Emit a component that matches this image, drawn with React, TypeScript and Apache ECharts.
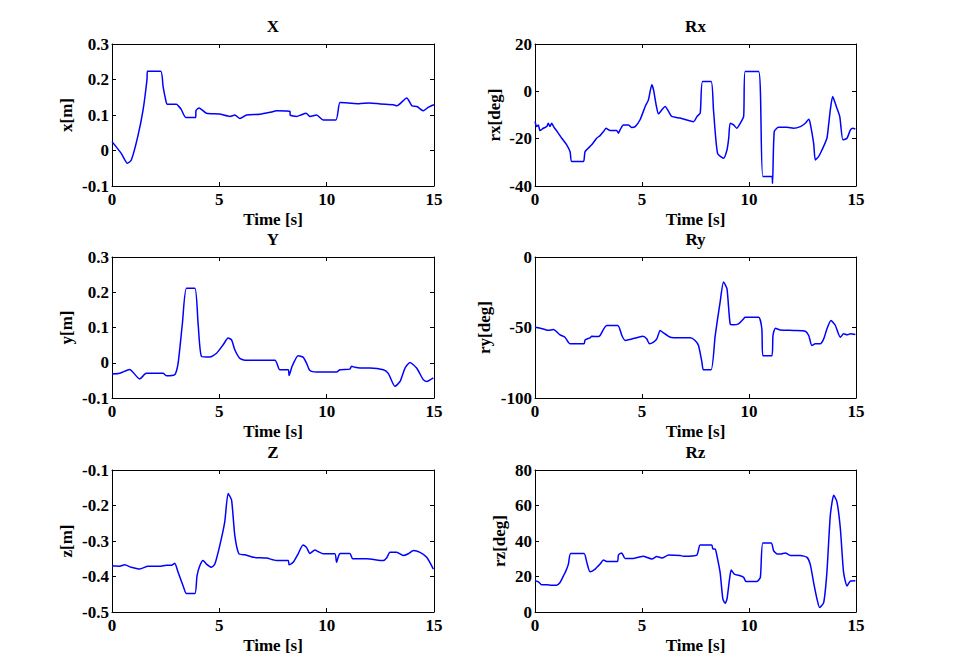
import React, { useEffect, useRef } from "react";
import * as echarts from "echarts";

// ---- data (time [s], value) ----
const X_T = [0, 0.43, 0.72, 0.9, 1.2, 1.45, 1.63, 1.65, 2.27, 2.38, 2.5, 2.57, 3.0, 3.1, 3.23, 3.44, 3.9, 3.91, 4.06, 4.4, 5.0, 5.5, 5.72, 5.96, 6.27, 6.9, 7.4, 7.67, 8.29, 8.3, 8.6, 8.8, 9.04, 9.22, 9.53, 9.84, 10.43, 10.62, 11.0, 11.5, 12.0, 12.5, 13.1, 13.27, 13.73, 13.97, 14.2, 14.51, 14.74, 15];
const X_V = [0.025, -0.008, -0.036, -0.027, 0.039, 0.115, 0.2, 0.223, 0.223, 0.18, 0.143, 0.13, 0.13, 0.125, 0.115, 0.093, 0.093, 0.112, 0.12, 0.105, 0.103, 0.096, 0.1, 0.09, 0.1, 0.102, 0.108, 0.112, 0.11, 0.1, 0.096, 0.1, 0.105, 0.096, 0.1, 0.086, 0.086, 0.135, 0.134, 0.132, 0.134, 0.131, 0.129, 0.126, 0.148, 0.126, 0.124, 0.112, 0.122, 0.129];

const RX_T = [0, 0.08, 0.16, 0.23, 0.39, 0.55, 0.62, 0.7, 0.78, 0.89, 1.04, 1.25, 1.48, 1.64, 1.72, 2.26, 2.34, 2.65, 2.88, 3.04, 3.2, 3.32, 3.51, 3.82, 3.9, 3.98, 4.13, 4.37, 4.52, 4.68, 4.91, 5.15, 5.3, 5.46, 5.54, 5.66, 5.77, 5.93, 6.08, 6.24, 6.39, 6.78, 7.41, 7.57, 7.72, 7.83, 8.23, 8.34, 8.53, 8.81, 8.97, 9.05, 9.12, 9.28, 9.43, 9.59, 9.75, 9.82, 10.45, 10.65, 11.07, 11.1, 11.18, 11.38, 11.77, 12.08, 12.4, 12.63, 12.79, 12.86, 13.02, 13.1, 13.25, 13.41, 13.64, 13.72, 13.8, 13.91, 14.08, 14.24, 14.39, 14.58, 14.74, 14.86, 14.97];
const RX_V = [-12.8, -14.9, -14.2, -16.6, -15.6, -14.9, -13.5, -14.9, -13.5, -15.2, -17, -19.8, -22.6, -25.5, -29.7, -29.7, -25.5, -22.6, -19.8, -18.7, -17, -15.6, -16.6, -16.6, -17.7, -16.2, -14.2, -14.2, -15.3, -14.9, -12, -6.4, -3.6, 2.8, 0.6, -5.7, -9.5, -7.8, -6.4, -8.5, -10.6, -11.3, -12.8, -10.6, -9.2, 4.2, 4.2, -7.8, -26.2, -28.3, -24.8, -20, -13.5, -14.2, -15.6, -13.5, -10.6, 8.4, 8.4, -36, -36, -38.9, -17, -15.2, -15.2, -15.6, -14.9, -13.5, -11.8, -13.5, -21.9, -29, -27.6, -24.8, -19.8, -14.2, -7.8, -2.2, -6.4, -10.6, -20.5, -19.8, -16.3, -15.6, -16];

const Y_T = [0, 0.36, 0.82, 1.29, 1.6, 2.38, 2.53, 2.92, 3.08, 3.28, 3.47, 3.86, 4.01, 4.17, 4.55, 4.87, 5.18, 5.41, 5.57, 5.72, 5.95, 6.19, 7.59, 7.82, 8.21, 8.25, 8.39, 8.67, 8.9, 9.06, 9.22, 9.53, 10.46, 10.62, 11.08, 11.16, 11.32, 11.55, 12.02, 12.64, 12.87, 13.18, 13.42, 13.65, 13.88, 14.19, 14.5, 14.66, 14.97];
const Y_V = [-0.032, -0.03, -0.019, -0.046, -0.03, -0.03, -0.037, -0.034, -0.001, 0.112, 0.211, 0.211, 0.112, 0.018, 0.016, 0.027, 0.051, 0.07, 0.065, 0.037, 0.013, 0.007, 0.007, -0.02, -0.02, -0.036, -0.01, 0.02, 0.016, -0.001, -0.022, -0.026, -0.026, -0.02, -0.018, -0.01, -0.013, -0.015, -0.015, -0.02, -0.03, -0.067, -0.053, -0.015, 0.001, -0.015, -0.048, -0.053, -0.043];

const RY_T = [0, 0.39, 0.62, 0.86, 1.17, 1.4, 1.64, 2.29, 2.34, 2.57, 2.65, 2.96, 3.04, 3.35, 3.87, 4.06, 4.21, 4.44, 4.76, 5.04, 5.22, 5.35, 5.54, 5.69, 5.85, 6.0, 6.32, 6.78, 7.25, 7.48, 7.64, 7.8, 7.87, 8.23, 8.42, 8.65, 8.81, 8.97, 9.12, 9.28, 9.51, 9.75, 9.82, 10.45, 10.6, 10.65, 11.07, 11.12, 11.23, 11.46, 12.08, 12.63, 12.79, 12.94, 13.1, 13.33, 13.49, 13.64, 13.83, 14.03, 14.27, 14.42, 14.58, 14.74, 14.97];
const RY_V = [-49.8, -51, -52, -51.5, -55.2, -56.9, -61.6, -61.6, -58.8, -57.3, -56.2, -56.4, -55.7, -48.6, -48.6, -55.7, -59.2, -58.5, -57.3, -56.2, -58, -61.6, -60.4, -58.1, -52.1, -53.8, -56.9, -57.3, -57.3, -59.2, -62.8, -74.6, -79.9, -79.9, -55.7, -32, -17.8, -22.5, -47.4, -48.1, -47.4, -43.8, -42.7, -42.7, -50.9, -70, -70, -55.7, -50.5, -51.7, -52.1, -52.6, -55.7, -62.8, -61.6, -61.6, -58.1, -51, -45, -48.4, -56.9, -54.5, -55.2, -54.5, -55];

const Z_T = [0, 0.36, 0.59, 0.9, 1.29, 1.68, 2.22, 2.53, 2.77, 2.92, 3.08, 3.31, 3.47, 3.86, 3.96, 4.09, 4.24, 4.4, 4.63, 4.79, 5.02, 5.25, 5.41, 5.57, 5.72, 5.91, 6.19, 6.58, 7.2, 7.66, 8.21, 8.25, 8.44, 8.67, 8.9, 9.06, 9.22, 9.45, 9.61, 9.84, 10.38, 10.46, 10.54, 10.62, 11.08, 11.21, 11.86, 12.64, 12.79, 12.95, 13.26, 13.57, 13.8, 14.04, 14.35, 14.66, 14.97];
const Z_V = [-0.37, -0.371, -0.367, -0.374, -0.379, -0.371, -0.371, -0.368, -0.368, -0.363, -0.388, -0.426, -0.448, -0.448, -0.398, -0.37, -0.355, -0.365, -0.374, -0.365, -0.313, -0.247, -0.166, -0.185, -0.284, -0.336, -0.339, -0.346, -0.348, -0.355, -0.355, -0.367, -0.36, -0.336, -0.311, -0.318, -0.335, -0.325, -0.33, -0.336, -0.336, -0.36, -0.345, -0.335, -0.335, -0.35, -0.35, -0.355, -0.348, -0.332, -0.332, -0.341, -0.336, -0.327, -0.332, -0.346, -0.379];

const RZ_T = [0, 0.16, 0.31, 0.55, 0.78, 1.01, 1.17, 1.33, 1.45, 1.56, 1.67, 2.29, 2.42, 2.57, 2.81, 3.04, 3.2, 3.35, 3.85, 3.9, 4.05, 4.21, 4.6, 5.07, 5.22, 5.46, 5.69, 5.93, 6.24, 6.78, 6.94, 7.56, 7.72, 8.26, 8.31, 8.42, 8.5, 8.65, 8.78, 8.89, 8.97, 9.09, 9.17, 9.31, 9.59, 9.75, 9.86, 10.37, 10.53, 10.65, 11.04, 11.15, 11.31, 11.46, 11.7, 11.93, 12.4, 12.71, 12.86, 13.02, 13.18, 13.3, 13.49, 13.64, 13.8, 13.96, 14.11, 14.27, 14.42, 14.58, 14.74, 14.97];
const RZ_V = [17.6, 17, 15.3, 15.3, 15.1, 15.1, 16.6, 20.4, 23.3, 27, 33, 33, 28, 22.7, 24.2, 27, 29.3, 28.4, 28.4, 32.1, 33.3, 30.2, 30.2, 31.4, 30.8, 29.9, 31.2, 30.4, 32.1, 31.8, 31.4, 32.1, 37.8, 37.8, 35.5, 35.5, 31.8, 22.3, 7.2, 4.9, 7.2, 18.5, 23.6, 21.4, 20.4, 19.5, 17.2, 17.2, 19.5, 38.9, 38.9, 34.6, 32.7, 32.7, 33.3, 31.8, 31.8, 30.8, 27, 16.6, 7.2, 2.5, 5.3, 22.3, 54.4, 65.8, 62, 46.9, 22.3, 14.7, 17.5, 17.6];

const TIME_TICKS = [0, 5, 10, 15];

const FONT = "'Liberation Serif', 'Times New Roman', serif";

const panels = [
  { title: "X", yName: "x[m]", t: X_T, v: X_V, min: -0.1, max: 0.3, interval: 0.1, nameGap: 37, left: 112, top: 44, width: 322, height: 142 },
  { title: "Rx", yName: "rx[deg]", t: RX_T, v: RX_V, min: -40, max: 20, interval: 20, nameGap: 32, left: 535, top: 44, width: 321, height: 142 },
  { title: "Y", yName: "y[m]", t: Y_T, v: Y_V, min: -0.1, max: 0.3, interval: 0.1, nameGap: 37, left: 112, top: 257, width: 322, height: 141 },
  { title: "Ry", yName: "ry[deg]", t: RY_T, v: RY_V, min: -100, max: 0, interval: 50, nameGap: 42, left: 535, top: 257, width: 321, height: 141 },
  { title: "Z", yName: "z[m]", t: Z_T, v: Z_V, min: -0.5, max: -0.1, interval: 0.1, nameGap: 37, left: 112, top: 470, width: 322, height: 142 },
  { title: "Rz", yName: "rz[deg]", t: RZ_T, v: RZ_V, min: 0, max: 80, interval: 20, nameGap: 27, left: 535, top: 470, width: 321, height: 142 },
];

function fmt(v: number) {
  const r = Math.round(v * 1000) / 1000;
  return String(r);
}

export default function App() {
  const ref = useRef<HTMLDivElement>(null);
  useEffect(() => {
    if (!ref.current) return;
    const chart = echarts.init(ref.current, null, { renderer: "svg" });
    const labelStyle = { color: "#000", fontFamily: FONT, fontWeight: "bold" as const, fontSize: 17 };
    const grid: any[] = [];
    const xAxis: any[] = [];
    const yAxis: any[] = [];
    const series: any[] = [];
    const title: any[] = [];
    panels.forEach((p, i) => {
      grid.push({ left: p.left, top: p.top, width: p.width, height: p.height, show: false });
      title.push({
        text: p.title,
        left: p.left + p.width / 2,
        top: p.top - 26,
        padding: 0,
        textAlign: "center",
        textStyle: { ...labelStyle },
      });
      // bottom x axis
      xAxis.push({
        type: "value", gridIndex: i, position: "bottom", min: 0, max: 15, interval: 5,
        name: "Time [s]", nameLocation: "middle", nameGap: 25,
        nameTextStyle: { ...labelStyle },
        axisLine: { show: true, onZero: false, lineStyle: { color: "#000", width: 1 } },
        axisTick: { show: true, inside: true, length: 4, lineStyle: { color: "#000" } },
        axisLabel: { ...labelStyle, margin: 5, formatter: (v: number) => (TIME_TICKS.includes(v) ? String(v) : "") },
        splitLine: { show: false },
      });
      // top mirror axis
      xAxis.push({
        type: "value", gridIndex: i, position: "top", min: 0, max: 15, interval: 5,
        axisLine: { show: true, onZero: false, lineStyle: { color: "#000", width: 1 } },
        axisTick: { show: true, inside: true, length: 4, lineStyle: { color: "#000" } },
        axisLabel: { show: false },
        splitLine: { show: false },
      });
      yAxis.push({
        type: "value", gridIndex: i, position: "left", min: p.min, max: p.max, interval: p.interval,
        name: p.yName, nameLocation: "middle", nameGap: p.nameGap,
        nameTextStyle: { ...labelStyle },
        axisLine: { show: true, onZero: false, lineStyle: { color: "#000", width: 1 } },
        axisTick: { show: true, inside: true, length: 4, lineStyle: { color: "#000" } },
        axisLabel: { ...labelStyle, margin: 3, formatter: fmt },
        splitLine: { show: false },
      });
      yAxis.push({
        type: "value", gridIndex: i, position: "right", min: p.min, max: p.max, interval: p.interval,
        axisLine: { show: true, onZero: false, lineStyle: { color: "#000", width: 1 } },
        axisTick: { show: true, inside: true, length: 4, lineStyle: { color: "#000" } },
        axisLabel: { show: false },
        splitLine: { show: false },
      });
      series.push({
        type: "line",
        xAxisIndex: i * 2,
        yAxisIndex: i * 2,
        data: p.t.map((t, k) => [t, p.v[k]]),
        showSymbol: false,
        symbol: "none",
        lineStyle: { color: "#0000ff", width: 1.5 },
        smooth: 0.2,
        z: 3,
      });
    });
    chart.setOption({
      animation: false,
      backgroundColor: "#fff",
      title,
      grid,
      xAxis,
      yAxis,
      series,
    });
    return () => chart.dispose();
  }, []);
  return <div ref={ref} style={{ width: 980, height: 661, position: "absolute", left: 0, top: 0 }} />;
}
